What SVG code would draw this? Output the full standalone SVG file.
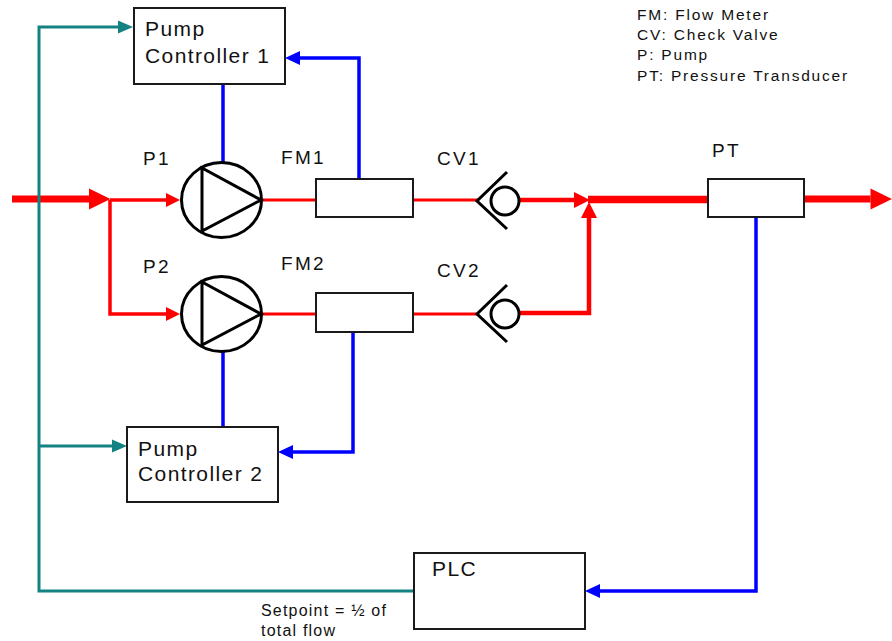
<svg xmlns="http://www.w3.org/2000/svg" width="892" height="641" viewBox="0 0 892 641">
<style>
text{font-family:"Liberation Sans",Arial,sans-serif;fill:#111}
.box{fill:#fff;stroke:#1a1a1a;stroke-width:2}
.big{font-size:21px;letter-spacing:1.4px}
.lbl{font-size:19px;letter-spacing:2.3px}
.leg{font-size:15.5px;letter-spacing:1.8px}
.note{font-size:16px;letter-spacing:1.2px}
.sym{fill:#fff;stroke:#000;stroke-width:3}
.red{fill:none;stroke:#ff0000;stroke-linejoin:miter}
.blue{fill:none;stroke:#0000ff;stroke-width:3.5}
.teal{fill:none;stroke:#138282;stroke-width:3}
</style>
<defs>
<marker id="rBig" markerUnits="userSpaceOnUse" orient="auto" overflow="visible" refX="0" refY="0" markerWidth="22" markerHeight="22"><path d="M0,-10.5 L21.5,0 L0,10.5 z" fill="#ff0000"/></marker>
<marker id="rSm" markerUnits="userSpaceOnUse" orient="auto" overflow="visible" refX="0" refY="0" markerWidth="16" markerHeight="16"><path d="M0,-7 L14,0 L0,7 z" fill="#ff0000"/></marker>
<marker id="rMid" markerUnits="userSpaceOnUse" orient="auto" overflow="visible" refX="0" refY="0" markerWidth="18" markerHeight="18"><path d="M0,-8 L16,0 L0,8 z" fill="#ff0000"/></marker>
<marker id="bl" markerUnits="userSpaceOnUse" orient="auto" overflow="visible" refX="0" refY="0" markerWidth="16" markerHeight="16"><path d="M0,-7 L15,0 L0,7 z" fill="#0000ff"/></marker>
<marker id="tl" markerUnits="userSpaceOnUse" orient="auto" overflow="visible" refX="0" refY="0" markerWidth="16" markerHeight="16"><path d="M0,-6.5 L15,0 L0,6.5 z" fill="#138282"/></marker>
</defs>
<rect width="892" height="641" fill="#fff"/>

<g id="connectors">
  <path class="red" stroke-width="7" d="M12,199 L89,199" marker-end="url(#rBig)"/>
  <path class="red" stroke-width="3.5" d="M110,200 L166,200" marker-end="url(#rSm)"/>
  <path class="red" stroke-width="3.5" d="M110,200 L110,314 L166,314" marker-end="url(#rSm)"/>
  <path class="red" stroke-width="3" d="M263,200 L316,200"/>
  <path class="red" stroke-width="3" d="M413,200 L478,200"/>
  <path class="red" stroke-width="4.5" d="M519,200 L574,200" marker-end="url(#rMid)"/>
  <path class="red" stroke-width="3" d="M263,314 L316,314"/>
  <path class="red" stroke-width="3" d="M413,314 L478,314"/>
  <path class="red" stroke-width="4.5" d="M519,313 L589,313 L589,218" marker-end="url(#rMid)"/>
  <path class="red" stroke-width="7.5" d="M588,199.5 L708,199.5"/>
  <path class="red" stroke-width="7" d="M804,199 L870.5,199" marker-end="url(#rBig)"/>
  <path class="blue" d="M223,85 L223,162"/>
  <path class="blue" d="M359,179 L359,58 L300,58" marker-end="url(#bl)"/>
  <path class="blue" d="M223,352 L223,427"/>
  <path class="blue" d="M353,332 L353,452 L293,452" marker-end="url(#bl)"/>
  <path class="blue" d="M756,217 L756,591 L600,591" marker-end="url(#bl)"/>
  <path class="teal" d="M414,591 L39,591 L39,27 L118,27" marker-end="url(#tl)"/>
  <path class="teal" d="M39,446 L112,446" marker-end="url(#tl)"/>
</g>

<g id="pc1">
  <rect class="box" x="134" y="8" width="151" height="76"/>
  <text class="big" x="145" y="36">Pump</text>
  <text class="big" x="145" y="63">Controller 1</text>
</g>
<g id="pc2">
  <rect class="box" x="127" y="427" width="151" height="75"/>
  <text class="big" x="138" y="456">Pump</text>
  <text class="big" x="138" y="481">Controller 2</text>
</g>
<g id="plc">
  <rect class="box" x="414" y="553" width="171" height="76"/>
  <text class="big" x="432" y="576">PLC</text>
</g>

<g id="p1">
  <ellipse class="sym" cx="221.5" cy="200" rx="40" ry="37.5"/>
  <path class="sym" d="M202,168 L202,231 L261,200 Z" style="fill:none;stroke-linejoin:miter"/>
  <text class="lbl" x="143" y="165">P1</text>
</g>
<g id="p2">
  <ellipse class="sym" cx="221.5" cy="314" rx="40" ry="37.5"/>
  <path class="sym" d="M202,282 L202,345 L261,314 Z" style="fill:none;stroke-linejoin:miter"/>
  <text class="lbl" x="143" y="273">P2</text>
</g>
<g id="fm1">
  <rect class="box" x="316" y="179" width="97" height="38"/>
  <text class="lbl" x="281" y="164">FM1</text>
</g>
<g id="fm2">
  <rect class="box" x="316" y="293" width="97" height="39"/>
  <text class="lbl" x="281" y="270">FM2</text>
</g>
<g id="cv1">
  <circle class="sym" cx="505" cy="201" r="14"/>
  <path class="sym" d="M507,172 L477,201 L507,229" style="fill:none"/>
  <text class="lbl" x="437" y="165">CV1</text>
</g>
<g id="cv2">
  <circle class="sym" cx="505" cy="314" r="14"/>
  <path class="sym" d="M507,285 L477,314 L507,342" style="fill:none"/>
  <text class="lbl" x="437" y="277">CV2</text>
</g>
<g id="pt">
  <rect class="box" x="708" y="179" width="96" height="38"/>
  <text class="lbl" x="712" y="157">PT</text>
</g>

<g id="legend">
  <text class="leg" x="637" y="20">FM: Flow Meter</text>
  <text class="leg" x="637" y="40">CV: Check Valve</text>
  <text class="leg" x="637" y="60">P: Pump</text>
  <text class="leg" x="637" y="81">PT: Pressure Transducer</text>
</g>
<g id="setpoint">
  <text class="note" x="261" y="616">Setpoint = ½ of</text>
  <text class="note" x="261" y="636">total flow</text>
</g>
</svg>
